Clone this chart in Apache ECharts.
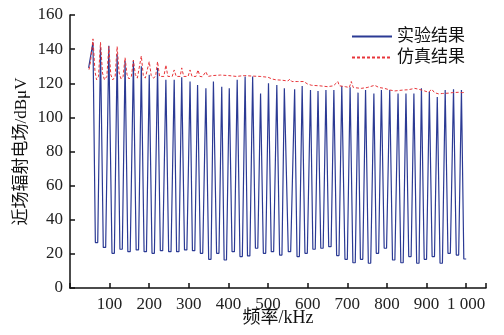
<!DOCTYPE html>
<html><head><meta charset="utf-8">
<script src="https://cdn.jsdelivr.net/npm/echarts@6/dist/echarts.min.js"></script>
<style>html,body{margin:0;padding:0;background:#fff}#c{width:504px;height:335px}</style>
</head><body><div id="c"></div>
<script>
// ---- data ----
const xTicks = [100,200,300,400,500,600,700,800,900,1000];
const yTicks = [0,20,40,60,80,100,120,140,160];
const seriesNames = ['实验结果','仿真结果'];

const expStart = [47, 129];
const peakFreq = [58,77,98,119,139,160,180,200,221,242,263,282,303,322,343,362,383,402,422,442,461,481,501,522,541,567,586,607,626,646,666,686,707,727,746,767,786,807,828,848,868,887,907,927,947,968,988];
const peakVal  = [144,141,142,137,133,133,130,125,129,122,122,123.5,121,119,117,121,118,117,122,124,124,114,120,119,117,116.5,118.4,116,115.5,116,116,118.4,117.6,114.5,116,114,116,116,114,114,114,117,115,112,116,116.5,116];
const troughFreq = [67,87,109,129,149,170,190,210,231,252,272,292,312,332,353,373,392,412,432,451,471,491,511,532,554,576,596,616,636,656,676,697,717,736,756,776,796,817,838,858,878,897,917,937,957,978,997];
const troughVal  = [26.6,23.8,20.3,22.7,21.3,22.3,21.3,20.3,21.9,21.3,21.3,22.3,21.9,20.3,16.8,20.3,16.4,21.3,18.4,18.8,23.3,20.3,21.3,19.3,21.3,18.4,20.3,22.7,23.3,24.2,19,16.8,14.8,16.8,14.5,20.3,23.3,16.4,14.8,18.4,14.5,16.8,18.4,14.5,20.3,19.3,17];

const simFreq = [48,52,58,63,67,72,77,82,87,93,98,103,108,114,119,124,129,134,139,144,149,155,160,165,170,175,180,185,190,195,200,205,210,216,221,226,231,237,242,247,252,258,263,268,273,278,282,287,292,298,303,308,313,318,323,328,334,339,343,348,360,380,400,420,440,460,480,500,510,520,535,550,555,560,575,590,600,610,630,650,665,676,680,695,705,710,715,735,750,769,780,794,808,820,840,854,870,880,895,905,913,920,930,940,955,965,980,990,995];
const simVal  = [128,133,146,127,122,124,144,126,122,124,141.5,125,122,124,141.5,126,122.5,124,135,125,122.5,124,133.6,125,123,124,136,124.5,123,124,132.7,124.5,123,124,132.7,124,123.5,124,130.7,124,123.5,124,127.8,124,123.5,124,129,124,123.5,124,127.8,124,123.5,124,127.8,124,123.8,124,126.8,124,124.5,124.8,124.5,124,124.5,124.2,124,123.5,122.5,122,121.8,121.3,122.5,121,121,121,119.5,118.8,118.5,118,118.5,121,118.5,118,117.5,121,117.5,117,117.5,118.8,117.5,117,116,115.5,116,116.2,117,116.5,115.5,114.7,116.5,114.5,113.8,114,114.2,114.5,114.7,114.5,114.6];

// ---- build series point lists ----
const expData = [expStart];
for (let i = 0; i < peakFreq.length; i++) {
  expData.push([peakFreq[i], peakVal[i]]);
  expData.push([troughFreq[i] - 3, troughVal[i]]);
  expData.push([troughFreq[i] + 3, troughVal[i]]);
}
const simData = simFreq.map((f, i) => [f, simVal[i]]);

const FONT = "'Liberation Serif', 'Noto Sans CJK SC', serif";
const BLUE = '#2b3a94', RED = '#e8353a';
const chart = echarts.init(document.getElementById('c'), null, {renderer: 'canvas'});
chart.setOption({
  animation: false,
  backgroundColor: '#fff',
  grid: {left: 70, right: 18, top: 15, bottom: 47, containLabel: false, outerBoundsMode: 'none'},
  legend: {
    orient: 'vertical', left: 346, top: 23,
    itemWidth: 40, itemHeight: 14, itemGap: 4,
    itemStyle: {opacity: 0},
    textStyle: {fontFamily: FONT, fontSize: 17, color: '#111', lineHeight: 17},
    data: seriesNames
  },
  xAxis: {
    type: 'value', min: 0, max: 1050, interval: 100,
    name: '频率/kHz', nameLocation: 'middle', nameGap: 21, nameMoveOverlap: false,
    nameTextStyle: {fontFamily: FONT, fontSize: 18, color: '#111'},
    axisLine: {lineStyle: {color: '#111', width: 1.5}},
    axisTick: {inside: true, length: 5, lineStyle: {color: '#111', width: 1.5}},
    axisLabel: {fontFamily: FONT, fontSize: 17, color: '#222', margin: 8,
      formatter: v => (v === 0 || v > 1000) ? '' : (v === 1000 ? '1 000' : String(v))},
    splitLine: {show: false}
  },
  yAxis: {
    type: 'value', min: 0, max: 160, interval: 20,
    name: '近场辐射电场/dBμV', nameLocation: 'middle', nameGap: 40, nameMoveOverlap: false,
    nameTextStyle: {fontFamily: FONT, fontSize: 17, color: '#111'},
    axisLine: {show: true, lineStyle: {color: '#111', width: 1.5}},
    axisTick: {show: true, inside: true, length: 5, lineStyle: {color: '#111', width: 1.5}},
    axisLabel: {fontFamily: FONT, fontSize: 17, color: '#222', margin: 7},
    splitLine: {show: false}
  },
  series: [
    {name: seriesNames[0], type: 'line', data: expData, symbol: 'none',
     lineStyle: {color: BLUE, width: 1.2}, itemStyle: {color: BLUE}, z: 2},
    {name: seriesNames[1], type: 'line', data: simData, symbol: 'none',
     lineStyle: {color: RED, width: 1, type: [3, 2]}, itemStyle: {color: RED}, z: 3}
  ]
});
</script></body></html>
